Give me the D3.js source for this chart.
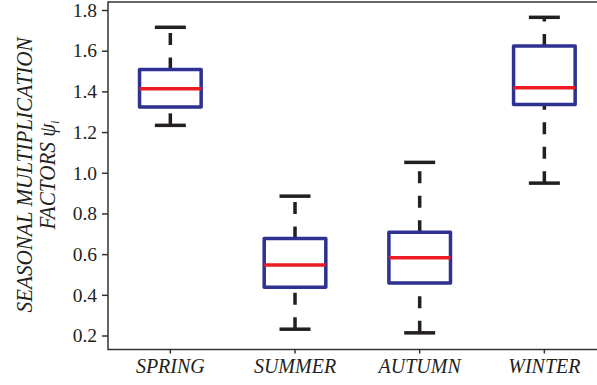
<!DOCTYPE html>
<html>
<head>
<meta charset="utf-8">
<script src="https://cdn.jsdelivr.net/npm/d3@7"></script>
<style>
  body { margin: 0; background: #fff; }
  svg { display: block; font-family: "Liberation Serif", "Times New Roman", serif; }
</style>
</head>
<body>
<div id="chart"></div>
<script>
// ── Data ──
const categories  = ['SPRING', 'SUMMER', 'AUTUMN', 'WINTER'];
const whiskerLow  = [1.233, 0.231, 0.213, 0.949];
const q1          = [1.323, 0.437, 0.458, 1.336];
const median      = [1.413, 0.547, 0.582, 1.418];
const q3          = [1.508, 0.677, 0.707, 1.623];
const whiskerHigh = [1.715, 0.885, 1.051, 1.764];
const yTicks      = [0.2, 0.4, 0.6, 0.8, 1.0, 1.2, 1.4, 1.6, 1.8];

const boxes = categories.map((c, i) => ({
  cat: c, lo: whiskerLow[i], q1: q1[i], med: median[i], q3: q3[i], hi: whiskerHigh[i]
}));

const W = 597, H = 385;
const plot = { left: 108, right: 606.7, top: 2, bottom: 349.5 };

const svg = d3.select('#chart').append('svg')
  .attr('width', W).attr('height', H);

const x = d3.scaleBand()
  .domain(categories)
  .range([plot.left, plot.right])
  .padding(0);

const y = d3.scaleLinear()
  .domain([0.2, 1.8])
  .range([335.5, 10]);

const ink = '#231f20';

// Frame (right side runs off the picture)
svg.append('rect')
  .attr('x', plot.left).attr('y', plot.top)
  .attr('width', plot.right - plot.left)
  .attr('height', plot.bottom - plot.top)
  .attr('fill', 'none').attr('stroke', '#333').attr('stroke-width', 1.5);

// Y axis
const yAxis = svg.append('g')
  .attr('transform', `translate(${plot.left},0)`)
  .call(d3.axisLeft(y).tickValues(yTicks).tickFormat(d3.format('.1f'))
    .tickSize(6).tickPadding(5));
yAxis.select('.domain').remove();
yAxis.selectAll('line').attr('stroke', '#333').attr('stroke-width', 1.5);
yAxis.selectAll('text')
  .attr('fill', ink).style('font-size', '19.5px')
  .style('font-family', '"Liberation Serif", serif');

// X axis
const xAxis = svg.append('g')
  .attr('transform', `translate(0,${plot.bottom})`)
  .call(d3.axisBottom(x).tickSize(4).tickPadding(5.5));
xAxis.select('.domain').remove();
xAxis.selectAll('line').attr('stroke', '#333').attr('stroke-width', 1.5);
xAxis.selectAll('text')
  .attr('fill', ink).style('font-size', '20px').style('font-style', 'italic')
  .style('font-family', '"Liberation Serif", serif');

// Y label (two lines, tall narrow lettering)
const ylab = svg.append('text')
  .attr('transform', 'translate(32,175) rotate(-90) scale(0.92,1)')
  .attr('text-anchor', 'middle')
  .attr('fill', ink)
  .style('font-size', '23px').style('font-style', 'italic');
ylab.append('tspan').attr('x', 0).attr('dy', 0).text('SEASONAL MULTIPLICATION');
ylab.append('tspan').attr('x', 0).attr('dy', 23).text('FACTORS ');
ylab.append('tspan').text('ψ');
ylab.append('tspan').attr('dy', 4).style('font-size', '12px').text('i');

// Boxes
const cx = d => x(d.cat) + x.bandwidth() / 2;
const boxHalf = 30.8, capHalf = 15.5;

const g = svg.selectAll('g.box').data(boxes).enter().append('g').attr('class', 'box');

// whiskers, drawn upward from the lower end
g.append('line')
  .attr('x1', cx).attr('x2', cx)
  .attr('y1', d => y(d.q3)).attr('y2', d => y(d.hi))
  .attr('stroke', ink).attr('stroke-width', 3.5).attr('stroke-dasharray', '12,12.5');
g.append('line')
  .attr('x1', cx).attr('x2', cx)
  .attr('y1', d => y(d.lo)).attr('y2', d => y(d.q1))
  .attr('stroke', ink).attr('stroke-width', 3.5).attr('stroke-dasharray', '12,12.5');

// caps
['lo', 'hi'].forEach(k => {
  g.append('line')
    .attr('x1', d => cx(d) - capHalf).attr('x2', d => cx(d) + capHalf)
    .attr('y1', d => y(d[k])).attr('y2', d => y(d[k]))
    .attr('stroke', ink).attr('stroke-width', 3.5);
});

// box
g.append('rect')
  .attr('x', d => cx(d) - boxHalf).attr('width', boxHalf * 2)
  .attr('y', d => y(d.q3)).attr('height', d => y(d.q1) - y(d.q3))
  .attr('fill', 'none').attr('stroke', '#2e3192').attr('stroke-width', 3.5)
  .attr('stroke-linejoin', 'round');

// median
g.append('line')
  .attr('x1', d => cx(d) - boxHalf).attr('x2', d => cx(d) + boxHalf)
  .attr('y1', d => y(d.med)).attr('y2', d => y(d.med))
  .attr('stroke', '#ed1c24').attr('stroke-width', 3.5);
</script>
</body>
</html>
